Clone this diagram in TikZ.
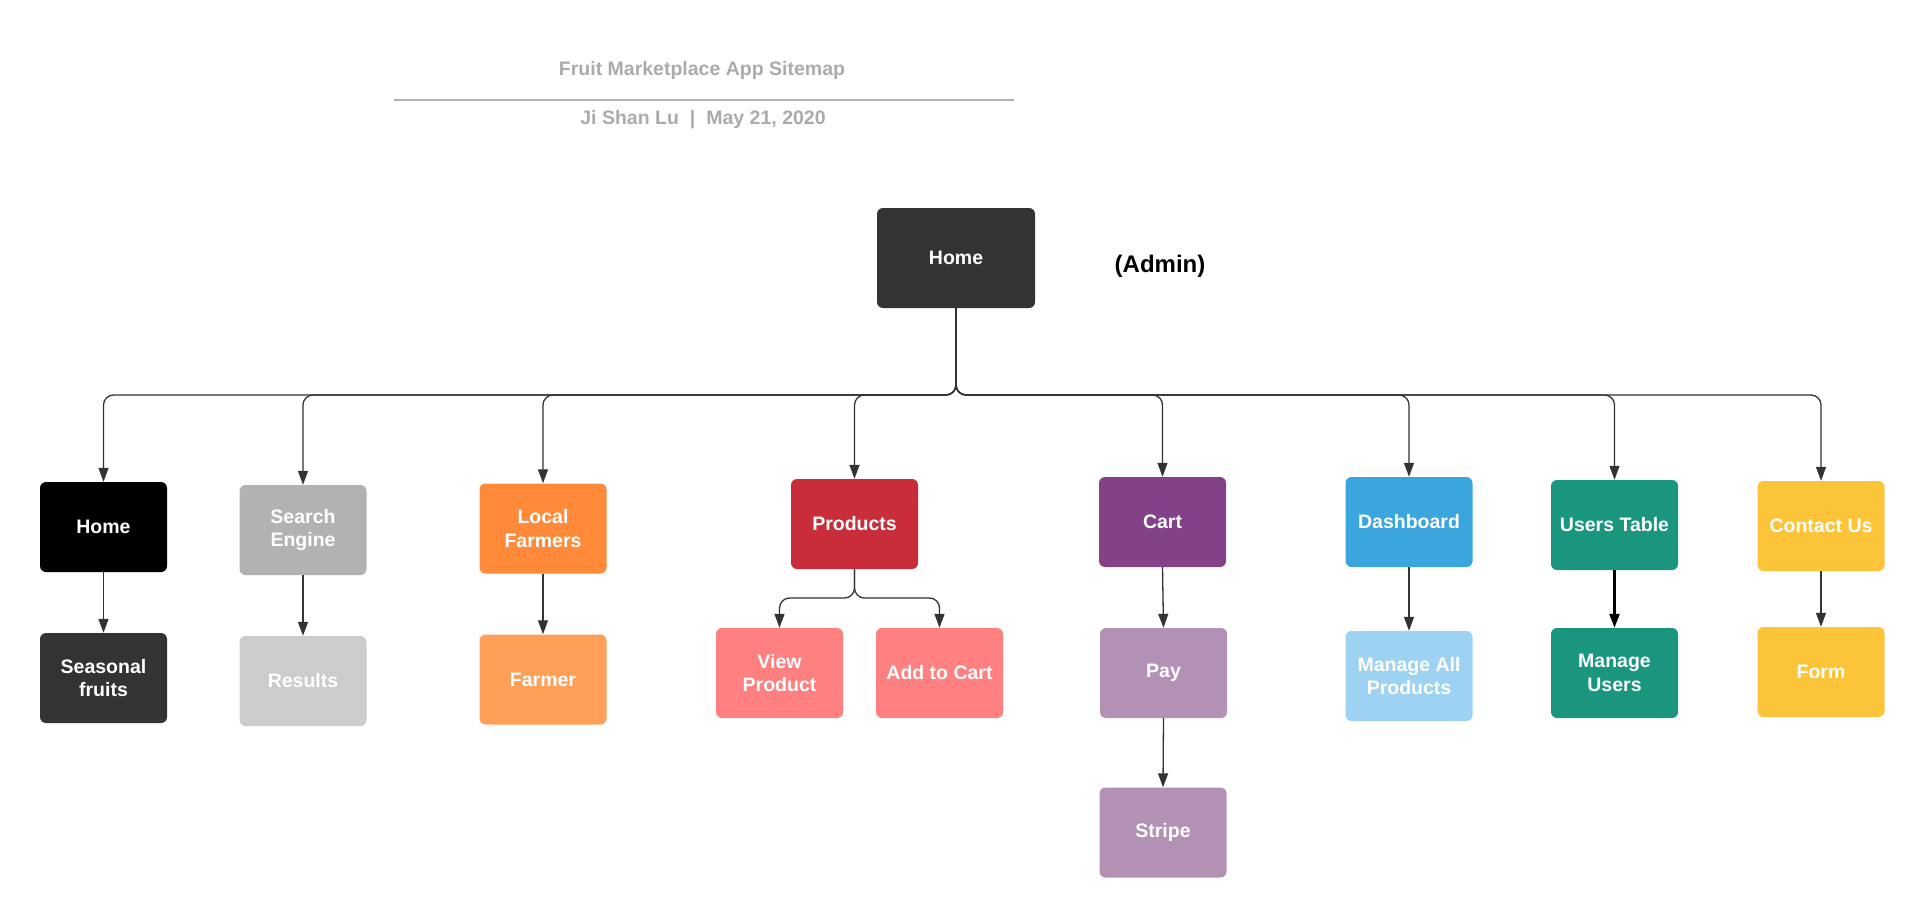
\documentclass[tikz,border=0pt]{standalone}
\usepackage{fontspec}
\setmainfont{Liberation Sans}
\usetikzlibrary{arrows.meta}
\definecolor{cinzaescuro}{HTML}{333333}
\definecolor{cinza}{HTML}{B2B2B2}
\definecolor{cinzaclaro}{HTML}{CCCCCC}
\definecolor{cinzatitulo}{HTML}{ABABAB}
\definecolor{laranja}{HTML}{FF8B3A}
\definecolor{laranjaclaro}{HTML}{FF9F58}
\definecolor{vermelho}{HTML}{C92D39}
\definecolor{rosa}{HTML}{FF8080}
\definecolor{roxo}{HTML}{834187}
\definecolor{lilas}{HTML}{B391B5}
\definecolor{azul}{HTML}{3AA6DD}
\definecolor{azulclaro}{HTML}{9DD2F3}
\definecolor{verde}{HTML}{19967D}
\definecolor{amarelo}{HTML}{FCC438}
\begin{document}
\begin{tikzpicture}[x=1pt,y=-1pt,
  caixa/.style={fill=#1,rounded corners=6pt,minimum width=127pt,minimum height=90pt,inner sep=2pt,
    align=center,text=white,font=\fontsize{19.5}{23.5}\selectfont\bfseries},
  ligacao/.style={draw=cinzaescuro,line width=1.3pt,rounded corners=10pt,-{Triangle[length=14pt,width=10pt]}},
  titulo/.style={text=cinzatitulo,font=\fontsize{19.5}{23.5}\selectfont\bfseries}]
\useasboundingbox (0,0) rectangle (1925,918);
%titulo
  \node[titulo] (nome) at (702,70) {Fruit Marketplace App Sitemap};
  \draw[cinza,line width=2pt] (394,99.5) -- (1014,99.5);
  \node[titulo] (autor) at (703,120) {Ji Shan Lu\hspace{11pt}|\hspace{11pt}May 21, 2020};
%raiz
  \node[caixa=cinzaescuro,minimum width=158pt,minimum height=100pt] (raiz) at (956,258) {Home};
  \node[font=\fontsize{24}{28}\selectfont\bfseries] (admin) at (1160,266) {(Admin)};
%primeiro nivel
  \node[caixa=black] (home) at (103.5,527) {Home};
  \node[caixa=cinza] (busca) at (303,530) {Search\\Engine};
  \node[caixa=laranja] (locais) at (543,528.5) {Local\\Farmers};
  \node[caixa=vermelho] (produtos) at (854.5,524) {Products};
  \node[caixa=roxo] (carrinho) at (1162.5,522) {Cart};
  \node[caixa=azul] (painel) at (1409,522) {Dashboard};
  \node[caixa=verde] (usuarios) at (1614.5,525) {Users Table};
  \node[caixa=amarelo] (contato) at (1821,526) {Contact Us};
%segundo nivel
  \node[caixa=cinzaescuro] (sazonais) at (103.5,678) {Seasonal\\fruits};
  \node[caixa=cinzaclaro] (resultados) at (303,681) {Results};
  \node[caixa=laranjaclaro] (agricultor) at (543,679.5) {Farmer};
  \node[caixa=rosa] (ver) at (779.5,673) {View\\Product};
  \node[caixa=rosa] (adicionar) at (939.5,673) {Add to Cart};
  \node[caixa=lilas] (pagar) at (1163.5,673) {Pay};
  \node[caixa=azulclaro] (gerirprod) at (1409,676) {Manage All\\Products};
  \node[caixa=verde] (gerirusu) at (1614.5,673) {Manage\\Users};
  \node[caixa=amarelo] (formulario) at (1821,672) {Form};
  \node[caixa=lilas] (stripe) at (1163,832.5) {Stripe};
%ligacoes
  \coordinate (barra) at (956,395);
  \foreach \filho in {home,busca,locais,produtos,carrinho,painel,usuarios,contato}
    \draw[ligacao] (raiz.south) -- (barra) -| (\filho.north);
  \draw[ligacao] (home.south) -- (sazonais.north);
  \draw[ligacao] (busca.south) -- (resultados.north);
  \draw[ligacao] (locais.south) -- (agricultor.north);
  \coordinate (divisao) at (854.5,598);
  \draw[ligacao] (produtos.south) -- (divisao) -| (ver.north);
  \draw[ligacao] (produtos.south) -- (divisao) -| (adicionar.north);
  \draw[ligacao] (carrinho.south) -- (pagar.north);
  \draw[ligacao] (pagar.south) -- (stripe.north);
  \draw[ligacao] (painel.south) -- (gerirprod.north);
  \draw[ligacao,draw=black,line width=2.6pt] (usuarios.south) -- (gerirusu.north);
  \draw[ligacao] (contato.south) -- (formulario.north);
\end{tikzpicture}
\end{document}
